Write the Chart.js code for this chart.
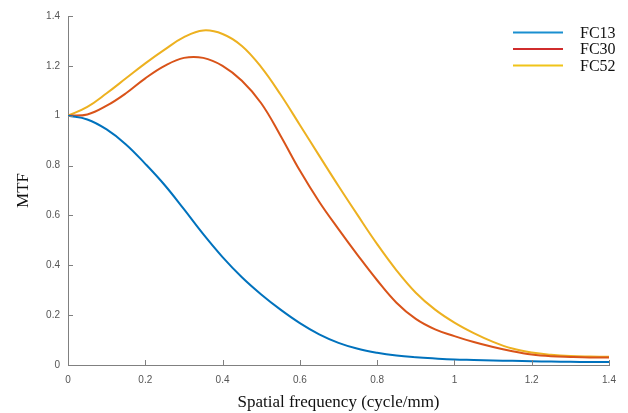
<!DOCTYPE html>
<html>
<head>
<meta charset="utf-8">
<script src="https://cdn.jsdelivr.net/npm/chart.js@4"></script>
<style>
html,body{margin:0;padding:0;background:#fff;}
#wrap{width:628px;height:413px;position:relative;}
</style>
</head>
<body>
<div id="wrap"><canvas id="c" width="628" height="413"></canvas></div>
<script>
const freq = [0,0.05,0.1,0.15,0.2,0.25,0.3,0.35,0.4,0.45,0.5,0.55,0.6,0.65,0.7,0.75,0.8,0.85,0.9,0.95,1.0,1.05,1.1,1.15,1.2,1.25,1.3,1.35,1.4];
const fc13 = [1.0,0.985,0.945,0.885,0.807,0.722,0.625,0.525,0.433,0.352,0.283,0.222,0.168,0.123,0.089,0.065,0.049,0.038,0.031,0.026,0.022,0.02,0.018,0.017,0.015,0.014,0.013,0.012,0.012];
const fc30 = [1.0,1.005,1.04,1.09,1.15,1.2,1.232,1.232,1.2,1.14,1.05,0.92,0.78,0.655,0.545,0.44,0.34,0.25,0.185,0.143,0.116,0.092,0.072,0.055,0.042,0.035,0.032,0.03,0.03];
const fc52 = [1.0,1.035,1.09,1.15,1.21,1.265,1.315,1.342,1.328,1.28,1.195,1.085,0.963,0.84,0.718,0.6,0.485,0.38,0.29,0.222,0.17,0.128,0.093,0.066,0.05,0.041,0.036,0.034,0.033];
const seriesNames = ['FC13','FC30','FC52'];
const seriesColors = ['#0072BD','#D95319','#EDB120'];
const legendColors = ['#1a8fd0','#d02c2c','#f0c419'];
const xTicks = [0,0.2,0.4,0.6,0.8,1,1.2,1.4];
const yTicks = [0,0.2,0.4,0.6,0.8,1,1.2,1.4];

const allSeries = [fc13, fc30, fc52];
const datasets = allSeries.map((s, i) => ({
  label: seriesNames[i],
  data: freq.map((f, j) => ({x: f, y: s[j]})),
  borderColor: seriesColors[i],
  backgroundColor: seriesColors[i],
  borderWidth: 2,
  pointRadius: 0,
  tension: 0.4,
  fill: false
}));

const fmt = v => String(Number(Number(v).toFixed(1)));

const innerTicks = {
  id: 'innerTicks',
  afterDraw(chart) {
    const ctx = chart.ctx;
    const xs = chart.scales.x, ys = chart.scales.y;
    const ca = chart.chartArea;
    ctx.save();
    ctx.strokeStyle = '#808080';
    ctx.lineWidth = 1;
    ctx.beginPath();
    xTicks.forEach(v => {
      const px = Math.round(xs.getPixelForValue(v)) + 0.5;
      ctx.moveTo(px, ca.bottom);
      ctx.lineTo(px, ca.bottom - 5);
    });
    yTicks.forEach(v => {
      const py = Math.round(ys.getPixelForValue(v)) + 0.5;
      ctx.moveTo(ca.left, py);
      ctx.lineTo(ca.left + 5, py);
    });
    ctx.stroke();
    ctx.restore();
  }
};

const customLegend = {
  id: 'customLegend',
  afterDraw(chart) {
    const ctx = chart.ctx;
    ctx.save();
    ctx.font = '16px "Liberation Serif", "Times New Roman", serif';
    ctx.textBaseline = 'alphabetic';
    ctx.textAlign = 'left';
    chart.data.datasets.forEach((ds, i) => {
      const y = 32.5 + i * 16.5;
      ctx.strokeStyle = legendColors[i];
      ctx.lineWidth = 2;
      ctx.beginPath();
      ctx.moveTo(513, y);
      ctx.lineTo(563, y);
      ctx.stroke();
      ctx.fillStyle = '#111';
      ctx.fillText(ds.label, 580, y + 5);
    });
    ctx.restore();
  }
};

new Chart(document.getElementById('c'), {
  type: 'line',
  data: { datasets },
  options: {
    responsive: false,
    animation: false,
    layout: { padding: { left: 0, top: 16, right: 19, bottom: 0 } },
    plugins: { legend: { display: false }, tooltip: { enabled: false } },
    scales: {
      x: {
        type: 'linear',
        min: 0, max: 1.4,
        afterFit(s) { s.height = 48; },
        afterBuildTicks(s) { s.ticks = xTicks.map(v => ({value: v})); },
        grid: { display: true, drawOnChartArea: false, drawTicks: false },
        border: { display: true, color: '#808080', width: 1 },
        ticks: { color: '#555', font: { family: 'Liberation Sans, Arial, sans-serif', size: 10 }, padding: 9, maxRotation: 0, callback: fmt },
        title: { display: true, text: 'Spatial frequency (cycle/mm)', color: '#111',
                 font: { family: '"Liberation Serif", "Times New Roman", serif', size: 17 }, padding: { top: 0, bottom: 0 } }
      },
      y: {
        type: 'linear',
        min: 0, max: 1.4,
        afterFit(s) { s.width = 68; },
        afterBuildTicks(s) { s.ticks = yTicks.map(v => ({value: v})); },
        grid: { display: true, drawOnChartArea: false, drawTicks: false },
        border: { display: true, color: '#808080', width: 1 },
        ticks: { color: '#555', font: { family: 'Liberation Sans, Arial, sans-serif', size: 10 }, padding: 8, callback: fmt },
        title: { display: true, text: 'MTF', color: '#111',
                 font: { family: '"Liberation Serif", "Times New Roman", serif', size: 17 }, padding: { top: 13, bottom: 0 } }
      }
    }
  },
  plugins: [innerTicks, customLegend]
});
</script>
</body>
</html>
